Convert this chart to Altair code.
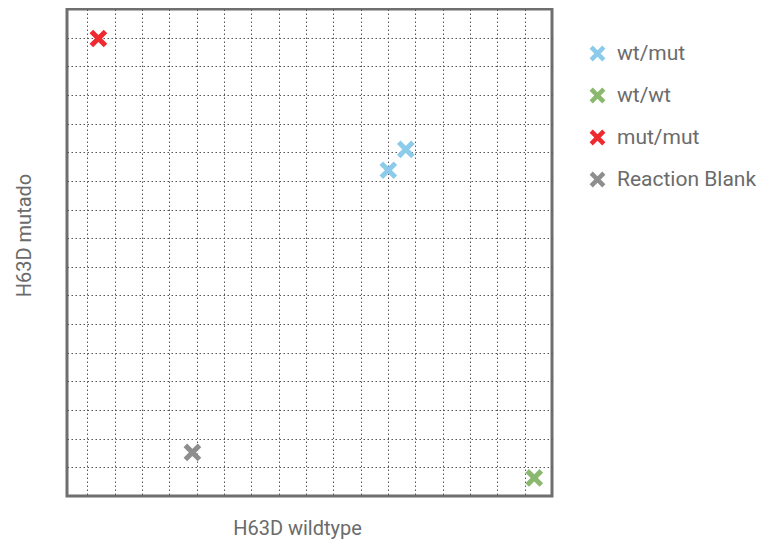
import altair as alt
import pandas as pd

genotypes = ["wt/mut", "wt/mut", "wt/wt", "mut/mut", "Reaction Blank"]
wildtype = [11.01, 11.65, 16.35, 0.40, 3.84]
mutado = [11.37, 12.10, 0.63, 15.97, 1.52]

order = ["wt/mut", "wt/wt", "mut/mut", "Reaction Blank"]
colors = ["#8ccbea", "#8bb86f", "#ee2a30", "#8e8e8e"]

grid_x = list(range(0, 17))
grid_y = list(range(1, 17))

df = pd.DataFrame({"genotype": genotypes, "wildtype": wildtype, "mutado": mutado})

XPATH = "M-1,-1L1,1M1,-1L-1,1"
FONT = "Roboto"
TXT = "#6b6b6b"

chart = alt.Chart(df).mark_point(
    shape=XPATH, filled=False, size=200, strokeWidth=5, opacity=1
).encode(
    x=alt.X("wildtype:Q", scale=alt.Scale(domain=[-0.75, 17], nice=False, zero=False),
            axis=alt.Axis(title="H63D wildtype", values=grid_x, labels=False, ticks=False,
                          domain=False, grid=True, gridColor="#555", gridDash=[1.5, 2.5],
                          gridWidth=1, titleFont=FONT, titleFontSize=20, titleFontWeight="normal",
                          titleColor=TXT, titleX=230, titleY=38, titleBaseline="alphabetic",
                          titleAlign="center")),
    y=alt.Y("mutado:Q", scale=alt.Scale(domain=[0, 17], nice=False, zero=False),
            axis=alt.Axis(title="H63D mutado", values=grid_y, labels=False, ticks=False,
                          domain=False, grid=True, gridColor="#555", gridDash=[1.5, 2.5],
                          gridWidth=1, titleFont=FONT, titleFontSize=20, titleFontWeight="normal",
                          titleColor=TXT, titleX=-37, titleY=226, titleBaseline="alphabetic",
                          titleAlign="center", titleAngle=270)),
    color=alt.Color("genotype:N", scale=alt.Scale(domain=order, range=colors),
                    legend=alt.Legend(title=None, orient="none", legendX=520, legendY=34,
                                      symbolType=XPATH, symbolSize=160, symbolStrokeWidth=4.5,
                                      labelFont=FONT, labelFontSize=21, labelColor=TXT,
                                      rowPadding=11, labelOffset=9, symbolOpacity=1)),
).properties(
    width=485, height=487,
    autosize=alt.AutoSizeParams(type="none"),
    padding={"left": 59, "top": 1, "right": 216, "bottom": 46},
).configure_view(
    stroke="#6f6f6f", strokeWidth=3
)

chart.save("out.html", embed_options={"renderer": "svg", "actions": False})
